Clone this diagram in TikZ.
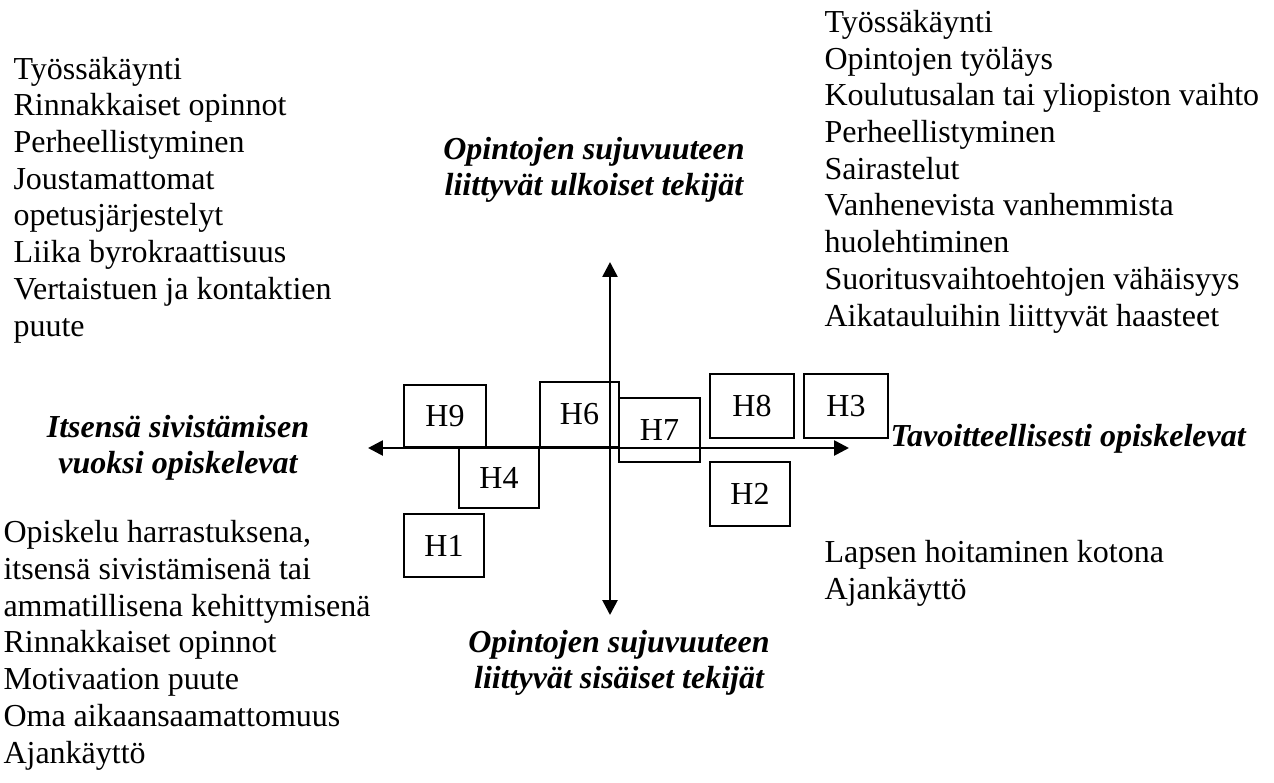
\documentclass[tikz,border=0pt]{standalone}
\usepackage{fontspec}
\setmainfont{Liberation Serif}
\usetikzlibrary{arrows.meta,fit}

\begin{document}
\begin{tikzpicture}[x=0.375pt,y=-0.375pt,
  txt/.style={inner sep=0pt,font=\fontsize{12pt}{13.76pt}\selectfont},
  lst/.style={txt,align=left,anchor=base west},
  lbl/.style={inner sep=0pt,align=center,anchor=base,font=\fontsize{12pt}{13.2pt}\selectfont\bfseries\itshape},
  hbox/.style={draw,line width=0.55pt,inner sep=0pt},
  axis/.style={line width=1pt,{Triangle[length=5.6pt,width=5.6pt]}-{Triangle[length=5.6pt,width=5.6pt]}}]
\useasboundingbox (0,0) rectangle (1274,783);

\coordinate (n) at (610,262);
\coordinate (s) at (610,615);
\coordinate (w) at (368,448);
\coordinate (e) at (849,448);
\draw[axis] (s) -- (n);
\draw[axis] (w) -- (e);

\node[hbox,fit={(404,385) (486,447)},label={[txt]center:H9}] (h9) {};
\node[hbox,fit={(459,447) (539,508)},label={[txt]center:H4}] (h4) {};
\node[hbox,fit={(540,382) (619,447)},label={[txt]center:H6}] (h6) {};
\node[hbox,fit={(619,398) (700,462)},label={[txt]center:H7}] (h7) {};
\node[hbox,fit={(710,374) (794,438)},label={[txt]center:H8}] (h8) {};
\node[hbox,fit={(804,374) (888,438)},label={[txt]center:H3}] (h3) {};
\node[hbox,fit={(710,462) (790,526)},label={[txt]center:H2}] (h2) {};
\node[hbox,fit={(404,514) (484,577)},label={[txt]center:H1}] (h1) {};

\node[lbl] (ulk) at (594,195) {Opintojen sujuvuuteen\\liittyvät ulkoiset tekijät};
\node[lbl] (sis) at (619,688) {Opintojen sujuvuuteen\\liittyvät sisäiset tekijät};
\node[lbl] (itse) at (178,473) {Itsensä sivistämisen\\vuoksi opiskelevat};
\node[lbl,anchor=base west] (tav) at (890,446) {Tavoitteellisesti opiskelevat};

\node[lst] (vy) at (13,336) {Työssäkäynti\\Rinnakkaiset opinnot\\Perheellistyminen\\Joustamattomat\\opetusjärjestelyt\\Liika byrokraattisuus\\Vertaistuen ja kontaktien\\puute};
\node[lst] (oy) at (824,326) {Työssäkäynti\\Opintojen työläys\\Koulutusalan tai yliopiston vaihto\\Perheellistyminen\\Sairastelut\\Vanhenevista vanhemmista\\huolehtiminen\\Suoritusvaihtoehtojen vähäisyys\\Aikatauluihin liittyvät haasteet};
\node[lst] (va) at (3,763) {Opiskelu harrastuksena,\\itsensä sivistämisenä tai\\ammatillisena kehittymisenä\\Rinnakkaiset opinnot\\Motivaation puute\\Oma aikaansaamattomuus\\Ajankäyttö};
\node[lst] (oa) at (824,599) {Lapsen hoitaminen kotona\\Ajankäyttö};
\end{tikzpicture}
\end{document}
